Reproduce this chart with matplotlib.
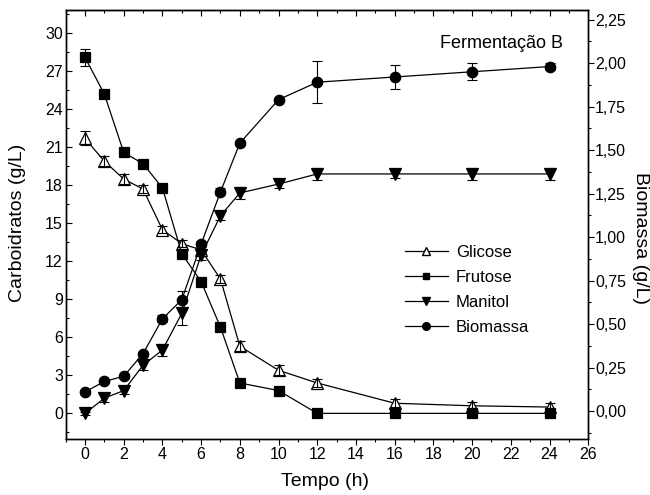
import matplotlib
matplotlib.use("Agg")
import matplotlib.pyplot as plt
from matplotlib.lines import Line2D
from matplotlib.ticker import MultipleLocator, FuncFormatter, NullFormatter

plt.rcParams['font.family'] = ['Liberation Sans', 'DejaVu Sans']

# Tempo de fermentação (h)
tempo = [0, 1, 2, 3, 4, 5, 6, 7, 8, 10, 12, 16, 20, 24]

# Carboidratos (g/L)
glicose = [21.7, 19.9, 18.5, 17.7, 14.5, 13.4, 12.9, 10.6, 5.3, 3.4, 2.4, 0.8, 0.6, 0.5]
glicose_err = [0.55, 0.4, 0.4, 0.3, 0.3, 0.3, 0.3, 0.3, 0.4, 0.4, 0.3, 0.3, 0.3, 0.3]
frutose = [28.1, 25.2, 20.6, 19.7, 17.8, 12.6, 10.4, 6.8, 2.4, 1.8, 0.0, 0.0, 0.0, 0.0]
frutose_err = [0.68, 0.2, 0.2, 0.2, 0.2, 0.2, 0.2, 0.2, 0.2, 0.2, 0.2, 0.2, 0.2, 0.2]
manitol = [0.0, 1.2, 1.8, 3.8, 5.0, 7.9, 12.5, 15.6, 17.4, 18.1, 18.9, 18.9, 18.9, 18.9]
manitol_err = [0.1, 0.3, 0.3, 0.4, 0.5, 0.95, 0.4, 0.3, 0.5, 0.3, 0.5, 0.3, 0.5, 0.5]

# Biomassa (g/L)
biomassa = [0.11, 0.17, 0.20, 0.33, 0.53, 0.64, 0.96, 1.26, 1.54, 1.79, 1.89, 1.92, 1.95, 1.98]
biomassa_err = [0.01, 0.01, 0.01, 0.01, 0.02, 0.05, 0.02, 0.02, 0.01, 0.01, 0.12, 0.07, 0.05, 0.02]

fig = plt.figure(figsize=(6.5, 4.95), dpi=100)
ax = fig.add_axes([0.101, 0.1137, 0.804, 0.8661])
ax2 = ax.twinx()


def serie(a, y, err, marker, ms, face):
    # line with markers first, then the error bars on top of them
    a.plot(tempo, y, color='black', lw=0.9, marker=marker, ms=ms,
           mfc=face, mec='black', mew=0.9, zorder=3)
    a.errorbar(tempo, y, yerr=err, fmt='none', ecolor='black',
               elinewidth=0.8, capsize=3.5, capthick=0.8, zorder=4)


serie(ax, glicose, glicose_err, '^', 8.5, 'white')
serie(ax, frutose, frutose_err, 's', 7.5, 'black')
serie(ax, manitol, manitol_err, 'v', 8.5, 'black')
serie(ax2, biomassa, biomassa_err, 'o', 7.5, 'black')

ax.set_xlim(-1, 26)
ax.set_ylim(-2.0, 31.84)
ax2.set_ylim(-0.159, 2.305)

ax.xaxis.set_major_locator(MultipleLocator(2))
ax.xaxis.set_minor_locator(MultipleLocator(1))
ax.yaxis.set_major_locator(MultipleLocator(3))
ax.yaxis.set_minor_locator(MultipleLocator(1.5))
ax2.yaxis.set_major_locator(MultipleLocator(0.25))
ax2.yaxis.set_minor_locator(MultipleLocator(0.125))
ax2.yaxis.set_major_formatter(FuncFormatter(lambda v, p: f"{v:.2f}".replace('.', ',')))

ax.tick_params(axis='x', which='both', direction='out', top=False, labelsize=11.5, pad=2)
ax.tick_params(axis='x', which='major', length=4, width=0.8)
ax.tick_params(axis='x', which='minor', length=2.5, width=0.8)
ax.tick_params(axis='y', which='both', direction='in', labelsize=11.5, pad=2)
ax.tick_params(axis='y', which='major', length=4, width=0.8)
ax.tick_params(axis='y', which='minor', length=2.5, width=0.8)
ax2.tick_params(axis='y', which='both', direction='out', labelsize=11.5, pad=1)
ax2.tick_params(axis='y', which='major', length=4, width=0.8)
ax2.tick_params(axis='y', which='minor', length=2.5, width=0.8)

# inward ticks along the top edge
top = ax.secondary_xaxis('top')
top.xaxis.set_major_locator(MultipleLocator(2))
top.xaxis.set_minor_locator(MultipleLocator(1))
top.xaxis.set_major_formatter(NullFormatter())
top.tick_params(which='both', direction='in', width=0.8)
top.tick_params(which='major', length=4)
top.tick_params(which='minor', length=2.5)

for a in (ax, ax2):
    for s in a.spines.values():
        s.set_linewidth(1.0)

fig.text(18 / 650, 1 - 223 / 495, 'Carboidratos (g/L)', rotation=90,
         ha='center', va='center', fontsize=14)
fig.text(641 / 650, 1 - 238 / 495, 'Biomassa (g/L)', rotation=270,
         ha='center', va='center', fontsize=14)
fig.text(325 / 650, 1 - 481 / 495, 'Tempo (h)', ha='center', va='center', fontsize=14)

ax.text(0.9516, 0.923, 'Fermentação B', transform=ax.transAxes,
        ha='right', va='center', fontsize=13)

handles = [
    Line2D([], [], color='black', lw=0.9, marker='^', ms=6, mfc='white', mec='black'),
    Line2D([], [], color='black', lw=0.9, marker='s', ms=5, mfc='black', mec='black'),
    Line2D([], [], color='black', lw=0.9, marker='v', ms=6, mfc='black', mec='black'),
    Line2D([], [], color='black', lw=0.9, marker='o', ms=5.5, mfc='black', mec='black'),
]
labels = ['Glicose', 'Frutose', 'Manitol', 'Biomassa']
ax2.legend(handles, labels, loc='upper left', bbox_to_anchor=(0.649, 0.452),
           frameon=False, fontsize=12, handlelength=2.6, handletextpad=0.45,
           labelspacing=0.6, borderpad=0, borderaxespad=0)

fig.savefig('out.png', dpi=100)
